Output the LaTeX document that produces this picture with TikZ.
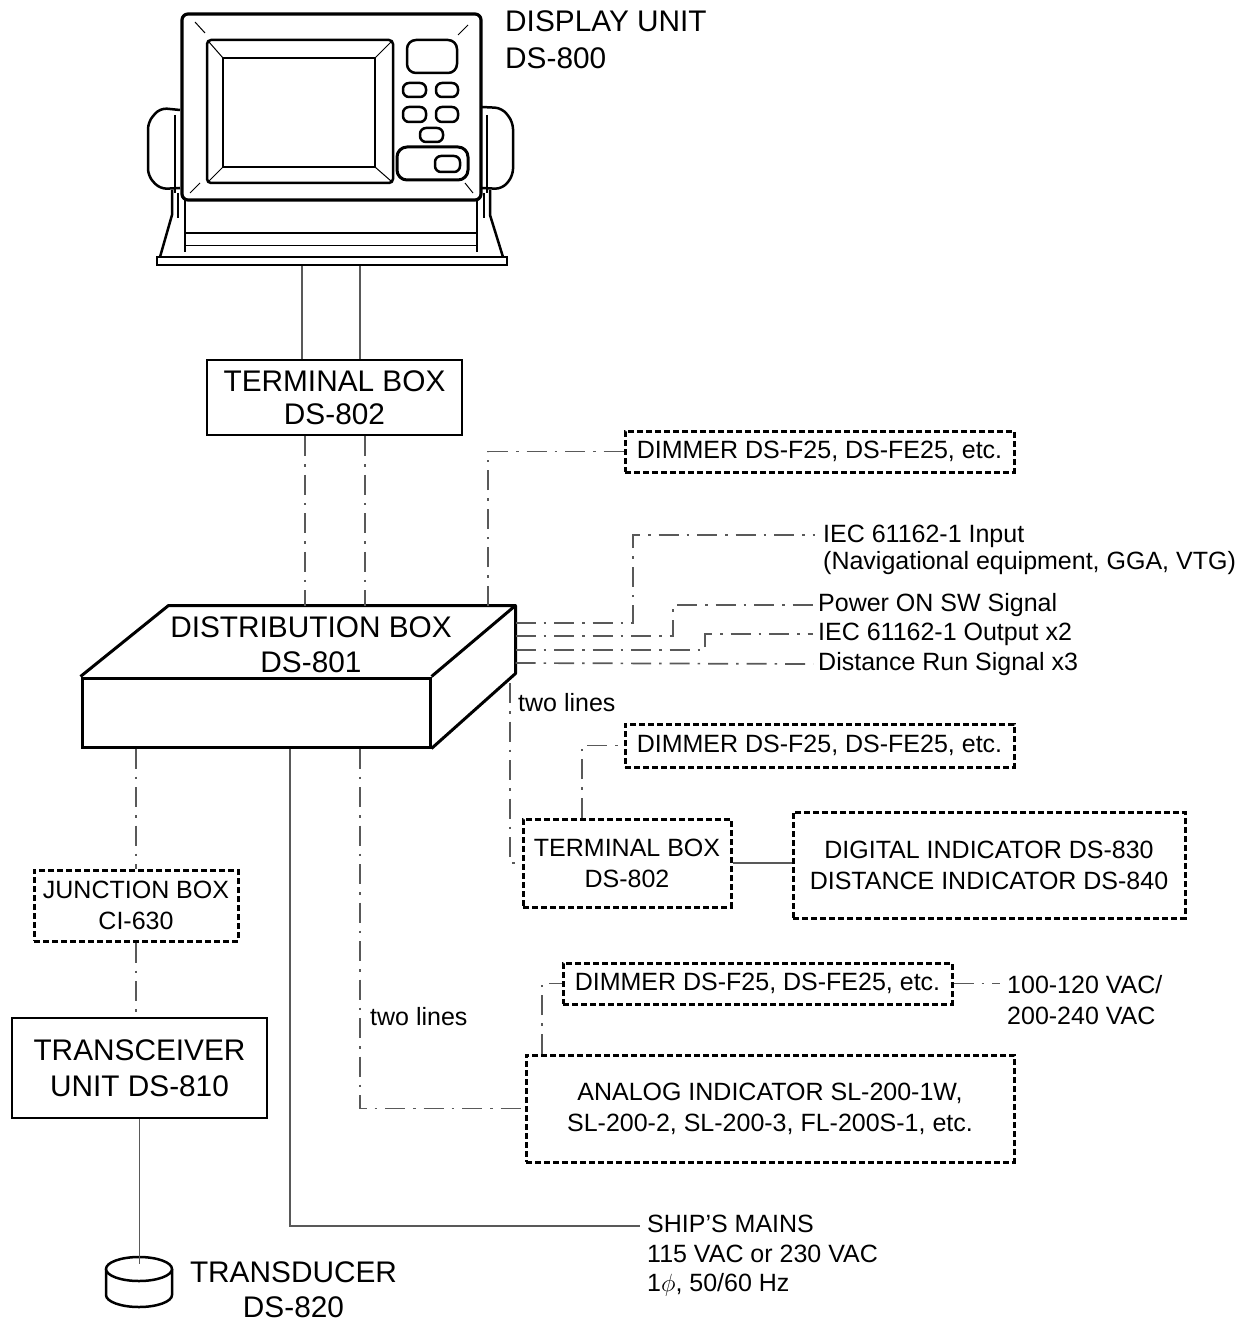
\documentclass[tikz,border=0pt]{standalone}
\usepackage{fontspec}
\setmainfont{Liberation Sans}
\usetikzlibrary{calc}
\begin{document}
\begin{tikzpicture}[x=1pt,y=-1pt,
  big/.style={font=\fontsize{29.8}{35}\selectfont},
  small/.style={font=\fontsize{25}{31}\selectfont},
  solidbox/.style={draw, line width=2.7pt, align=center, inner sep=0pt},
  dbox/.style={draw, line width=3pt, dash pattern=on 6pt off 3pt, align=center, inner sep=0pt},
  conn/.style={draw=black!65, line width=1.7pt},
  dd/.style={conn, dash pattern=on 20pt off 8pt on 2.5pt off 8pt},
  lbl/.style={inner sep=0pt, align=left, anchor=west},
  thin/.style={line width=1pt},
  unitline/.style={line width=2.5pt, line join=round}
]
\useasboundingbox (0,0) rectangle (1246,1329);

% ---------------- Display unit ----------------
\begin{scope}[unitline]
  % legs / stand
  \draw (172,190) -- (172,215) -- (160,257);
  \draw (178,193) -- (178,218);
  \draw (490,190) -- (490,215) -- (503,257);
  \draw (484,193) -- (484,218);
  \draw (185,200) -- (185,252);
  \draw (477,200) -- (477,252);
  \draw (185,233) -- (477,233);
  \draw[thin] (185,246) -- (477,246);
  % knobs
  \draw[rounded corners=7pt] (180,110) -- (160,108) -- (148,122) -- (148,176) -- (160,189) -- (180,188);
  \draw (175,115) -- (175,193);
  \draw[rounded corners=7pt] (482,107) -- (502,108) -- (513,122) -- (513,176) -- (502,189) -- (482,188);
  \draw (487,115) -- (487,193);
  % front frame
  \draw[rounded corners=6pt, line width=3.2pt, fill=white] (182,14) rectangle (481,200);
  \draw[rounded corners=4pt] (207,40) rectangle (393,183);
  \draw (223,58) rectangle (375,167);
  % corner bevel lines
  \draw[thin] (195,22) -- (205,33);
  \draw[thin] (468,25) -- (458,35);
  \draw[thin] (190,193) -- (200,183);
  \draw[thin] (473,193) -- (465,183);
  \draw[thin] (209,42) -- (223,58);
  \draw[thin] (391,42) -- (375,58);
  \draw[thin] (209,181) -- (223,167);
  \draw[thin] (391,181) -- (375,167);
  % buttons
  \draw[rounded corners=9pt] (407,40) rectangle (457,73);
  \draw[rounded corners=6pt] (403,83) rectangle (426,97);
  \draw[rounded corners=6pt] (436,83) rectangle (458,97);
  \draw[rounded corners=6pt] (403,107) rectangle (426,122);
  \draw[rounded corners=6pt] (436,107) rectangle (458,122);
  \draw[rounded corners=6pt] (420,128) rectangle (443,142);
  \draw[rounded corners=10pt, line width=3pt] (397,147) rectangle (468,180);
  \draw[rounded corners=6pt] (435,156) rectangle (460,172);
\end{scope}
\node[draw, line width=2.7pt, minimum width=350pt, minimum height=8pt, inner sep=0pt] (dbase) at (332,261) {};
\node[big, lbl, font=\fontsize{29.8}{37}\selectfont] (dul) at (505,40) {DISPLAY UNIT\\DS-800};

% ---------------- Terminal box (top) ----------------
\node[solidbox, big, minimum width=255pt, minimum height=75pt, font=\fontsize{29.8}{33}\selectfont] (tb1) at (334.5,397.5) {TERMINAL BOX\\DS-802};

% ---------------- Distribution box ----------------
\node[draw, line width=3pt, minimum width=348pt, minimum height=69pt, inner sep=0pt] (dbf) at (256,712.5) {};
\draw[line width=3pt, line join=round] (dbf.north west) -- ++(88,-71) coordinate (dbbl)
   -- ++(347,0) coordinate (dbbr) -- (dbf.north east);
\draw[line width=3pt, line join=round] (dbbr) -- ++(0,68) coordinate (dbrb) -- (dbf.south east);
\node[big, align=center, inner sep=0pt] (dbt) at (311,645) {DISTRIBUTION BOX\\DS-801};

% ---------------- Boxes on the right ----------------
\node[dbox, small, minimum width=389pt, minimum height=41pt] (dim1) at (819.5,451.5) {DIMMER DS-F25, DS-FE25, etc.};
\node[dbox, small, minimum width=389pt, minimum height=43pt] (dim2) at (819.5,745.5) {DIMMER DS-F25, DS-FE25, etc.};
\node[dbox, small, minimum width=389pt, minimum height=41pt] (dim3) at (757.5,983.5) {DIMMER DS-F25, DS-FE25, etc.};
\node[dbox, small, minimum width=208pt, minimum height=88pt] (tb2) at (627,863) {TERMINAL BOX\\DS-802};
\node[dbox, small, minimum width=392pt, minimum height=106pt] (digi) at (989,865) {DIGITAL INDICATOR DS-830\\DISTANCE INDICATOR DS-840};
\node[dbox, small, minimum width=488pt, minimum height=107pt] (analog) at (770,1108.5) {ANALOG INDICATOR SL-200-1W,\\SL-200-2, SL-200-3, FL-200S-1, etc.};

% ---------------- Boxes on the left ----------------
\node[dbox, small, minimum width=204pt, minimum height=71pt] (junction) at (136,905.5) {JUNCTION BOX\\CI-630};
\node[solidbox, big, minimum width=255pt, minimum height=100pt, font=\fontsize{29.8}{36}\selectfont] (trans) at (139.5,1068) {TRANSCEIVER\\UNIT DS-810};

% transducer
\draw[line width=2.5pt] (106,1269) -- (106,1295) arc[start angle=180, end angle=360, x radius=33pt, y radius=12pt] -- (172,1269);
\draw[line width=2.5pt, fill=white] (139,1269) ellipse [x radius=33pt, y radius=12pt];
\coordinate (tdtop) at (139.5,1264);
\node[big, align=center, inner sep=0pt] (tdl) at (293.5,1290) {TRANSDUCER\\DS-820};

% ---------------- Labels ----------------
\node[lbl, font=\fontsize{25}{27}\selectfont] (iecin) at (823,549.5) {IEC 61162-1 Input\\(Navigational equipment, GGA, VTG)};
\node[lbl, small] (pwr) at (818,605) {Power ON SW Signal};
\node[lbl, small] (iecout) at (818,634) {IEC 61162-1 Output x2};
\node[lbl, small] (dist) at (818,664) {Distance Run Signal x3};
\node[lbl, small] (two1) at (518,703) {two lines};
\node[lbl, small] (two2) at (370,1017) {two lines};
\node[lbl, small] (vac) at (1007,1000) {100-120 VAC/\\200-240 VAC};
\node[lbl, font=\fontsize{25}{29.5}\selectfont] (mainsl) at (647,1256) {SHIP'S MAINS\\115 VAC or 230 VAC\\1$\phi$, 50/60 Hz};

\coordinate (mains) at (640,1226);
\coordinate (iecinend) at (815,535);
\coordinate (vacend) at (1000,983.5);

% ---------------- Connectors ----------------
\draw[conn] (dbase.south -| 302,0) -- (tb1.north -| 302,0);
\draw[conn] (dbase.south -| 360,0) -- (tb1.north -| 360,0);
\draw[dd] (tb1.south -| 305,0) -- (dbbl -| 305,0);
\draw[dd] (tb1.south -| 365,0) -- (dbbl -| 365,0);
\draw[dd] (dbbl -| 488,0) |- (dim1.west);

\draw[dd] (dbbr |- 0,623) -- (633,623) -- (633,535) -- (iecinend);
\draw[dd] (dbbr |- 0,636) -- (673,636) -- (673,605) -- ([xshift=-5pt]pwr.west);
\draw[dd] (dbbr |- 0,650) -- (705,650) -- (705,634) -- ([xshift=-5pt]iecout.west);
\draw[dd] (dbbr |- 0,663) -- ([xshift=-5pt]dist.west);

\draw[dd] (510,683) |- (tb2.west);
\draw[dd] (tb2.north -| 582,0) |- (dim2.west);
\draw[conn] (tb2.east) -- (digi.west |- tb2.east);

\draw[dd] (dbf.south -| junction.north) -- (junction.north);
\draw[dd] (junction.south) -- (junction.south |- trans.north);
\draw[conn] (trans.south) -- (tdtop);

\draw[conn] (dbf.south -| 290,0) |- (mains);
\draw[dd] (dbf.south -| 360,0) |- (analog.west);
\draw[dd] (analog.north -| 542,0) |- (dim3.west);
\draw[dd] (dim3.east) -- (vacend);
\end{tikzpicture}
\end{document}
